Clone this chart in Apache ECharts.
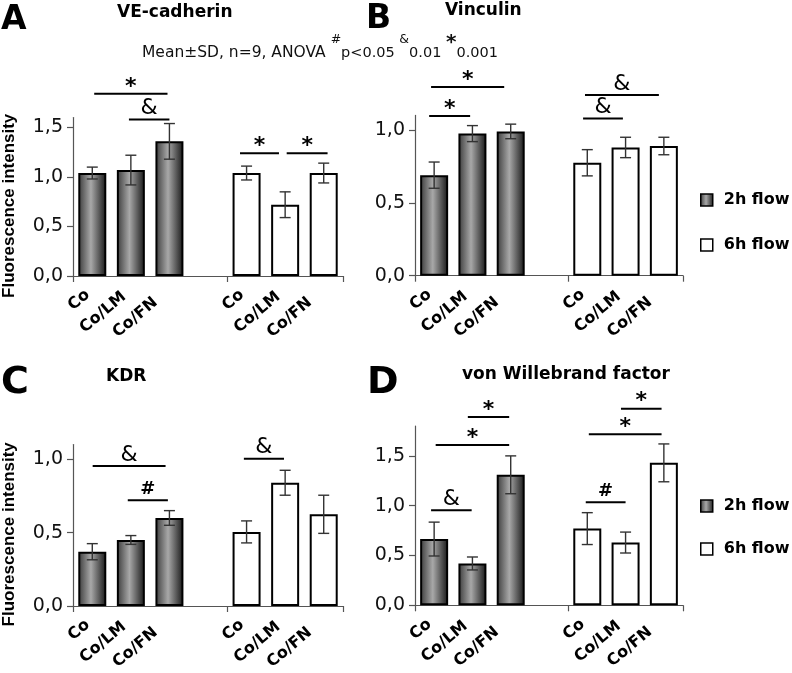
<!DOCTYPE html>
<html><head><meta charset="utf-8">
<script src="https://cdn.jsdelivr.net/npm/echarts@6/dist/echarts.min.js"></script>
<style>html,body{margin:0;padding:0;background:#fff}#c{width:792px;height:673px}</style>
</head><body><div id="c"></div>
<script>
// ---------- data ----------
const categories = ['Co', 'Co/LM', 'Co/FN', '', 'Co', 'Co/LM', 'Co/FN'];
const seriesNames = ['2h flow', '6h flow'];
const panelTitles = ['VE-cadherin', 'Vinculin', 'KDR', 'von Willebrand factor'];
const panelLetters = ['A', 'B', 'C', 'D'];
const yAxisName = 'Fluorescence intensity';
const yTickValues = [[0, 0.5, 1.0, 1.5], [0, 0.5, 1.0], [0, 0.5, 1.0], [0, 0.5, 1.0, 1.5]];
const yMaxValues = [1.6, 1.1, 1.1, 1.8];

const veMean2h = [1.04, 1.07, 1.36];
const veSd2h = [0.06, 0.15, 0.18];
const veMean6h = [1.04, 0.72, 1.04];
const veSd6h = [0.07, 0.13, 0.10];

const vinMean2h = [0.69, 0.975, 0.99];
const vinSd2h = [0.09, 0.055, 0.05];
const vinMean6h = [0.775, 0.88, 0.89];
const vinSd6h = [0.09, 0.07, 0.06];

const kdrMean2h = [0.37, 0.45, 0.60];
const kdrSd2h = [0.055, 0.03, 0.05];
const kdrMean6h = [0.505, 0.84, 0.625];
const kdrSd6h = [0.075, 0.085, 0.13];

const vwfMean2h = [0.665, 0.42, 1.31];
const vwfSd2h = [0.17, 0.065, 0.19];
const vwfMean6h = [0.77, 0.63, 1.43];
const vwfSd6h = [0.16, 0.105, 0.19];

// significance brackets: [from (category units), to, level (value), symbol]
const veSig = [[0.05, 1.95, 1.84, '*'], [0.95, 2.0, 1.58, '&'], [3.83, 4.84, 1.24, '*'], [5.04, 6.1, 1.24, '*']];
const vinSig = [[-0.08, 1.83, 1.295, '*'], [-0.13, 0.94, 1.096, '*'], [3.94, 5.87, 1.24, '&'], [3.89, 4.93, 1.078, '&']];
const kdrSig = [[0.01, 1.9, 0.954, '&'], [0.92, 1.96, 0.72, '#'], [3.93, 4.97, 1.004, '&']];
const vwfSig = [[-0.08, 0.98, 0.954, '&'], [0.04, 1.96, 1.61, '*'], [0.88, 1.96, 1.89, '*'], [3.96, 5.0, 1.034, '#'], [4.04, 5.94, 1.717, '*'], [4.88, 5.94, 1.974, '*']];

const noteMain = 'Mean±SD, n=9, ANOVA ';
const noteParts = [['#', 'p<0.05 '], ['&', '0.01 '], ['*', '0.001']];

// ---------- layout / style ----------
const panels = [
  { m2: veMean2h, s2: veSd2h, m6: veMean6h, s6: veSd6h, sig: veSig },
  { m2: vinMean2h, s2: vinSd2h, m6: vinMean6h, s6: vinSd6h, sig: vinSig },
  { m2: kdrMean2h, s2: kdrSd2h, m6: kdrMean6h, s6: kdrSd6h, sig: kdrSig },
  { m2: vwfMean2h, s2: vwfSd2h, m6: vwfMean6h, s6: vwfSd6h, sig: vwfSig }
];
const gridBoxes = [
  { left: 73, top: 117.6, width: 270, height: 158.4 },
  { left: 415, top: 115.4, width: 268, height: 160.3 },
  { left: 73, top: 444.6, width: 270, height: 161.4 },
  { left: 415, top: 426, width: 268, height: 179.3 }
];
// horizontal shift (px, leftwards) for each rotated category label
const labelShift = [8, 12, 24, 0, 8, 12, 24];
const FONT = 'DejaVu Sans';
const darkGrad = {
  type: 'linear', x: 0, y: 0, x2: 1, y2: 0,
  colorStops: [
    { offset: 0, color: '#3a3a3a' }, { offset: 0.45, color: '#a8a8a8' }, { offset: 1, color: '#161616' }
  ]
};
const axisColor = '#555';
const ROT = 40, RAD = ROT * Math.PI / 180;

function errRender(params, api) {
  const x = api.value(0), m = api.value(1), s = api.value(2);
  const hi = api.coord([x, m + s]), lo = api.coord([x, m - s]);
  const w = 5.5;
  const st = { stroke: '#333', lineWidth: 1.4 };
  return {
    type: 'group', children: [
      { type: 'line', shape: { x1: hi[0], y1: hi[1], x2: lo[0], y2: lo[1] }, style: st },
      { type: 'line', shape: { x1: hi[0] - w, y1: hi[1], x2: hi[0] + w, y2: hi[1] }, style: st },
      { type: 'line', shape: { x1: lo[0] - w, y1: lo[1], x2: lo[0] + w, y2: lo[1] }, style: st }
    ]
  };
}

function makeSigRender(sigArr) {
  return function (params, api) {
    const level = api.value(1), from = api.value(2), to = api.value(3);
    const p = api.coord([0, level]);
    const bw = api.size([1, 0])[0];
    const x1 = p[0] + from * bw, x2 = p[0] + to * bw;
    const sym = sigArr[params.dataIndex][3];
    let font, dy;
    if (sym === '*') { font = 'bold 22px "DejaVu Sans"'; dy = -7; }
    else if (sym === '#') { font = 'bold 18px "DejaVu Sans"'; dy = -11; }
    else { font = '22px "DejaVu Sans"'; dy = -11; }
    return {
      type: 'group', children: [
        { type: 'line', shape: { x1: x1, y1: p[1], x2: x2, y2: p[1] }, style: { stroke: '#000', lineWidth: 2 } },
        { type: 'text', style: { x: (x1 + x2) / 2, y: p[1] + dy, text: sym, font: font, fill: '#000', align: 'center', verticalAlign: 'middle' } }
      ]
    };
  };
}

const catData = categories.map((c, k) => ({
  value: c,
  textStyle: { padding: [0, Math.round(labelShift[k] * Math.cos(RAD)), Math.round(2 * labelShift[k] * Math.sin(RAD)), 0] }
}));

const grid = [], xAxis = [], yAxis = [], series = [];
panels.forEach((pn, i) => {
  grid.push(gridBoxes[i]);
  xAxis.push({
    type: 'category', gridIndex: i, data: catData, boundaryGap: true,
    axisLine: { show: true, lineStyle: { color: axisColor, width: 1.2 } },
    axisTick: { show: true, interval: (idx) => idx === 0 || idx === 4, length: 6, lineStyle: { color: axisColor, width: 1.2 } },
    axisLabel: { interval: 0, rotate: ROT, margin: 13, fontFamily: FONT, fontWeight: 'bold', fontSize: 16, color: '#000' }
  });
  yAxis.push({
    type: 'value', gridIndex: i, min: 0, max: yMaxValues[i], interval: 0.5,
    name: (i % 2 === 0) ? yAxisName : '', nameLocation: 'middle', nameRotate: 90, nameGap: 55,
    nameTextStyle: { fontFamily: 'Liberation Sans', fontWeight: 'bold', fontSize: 17, color: '#000', padding: [0, 18, 0, 0] },
    splitLine: { show: false },
    axisLine: { show: true, lineStyle: { color: axisColor, width: 1.2 } },
    axisTick: { show: true, length: 6, customValues: yTickValues[i], lineStyle: { color: axisColor, width: 1.2 } },
    axisLabel: { customValues: yTickValues[i], margin: 10, fontFamily: FONT, fontSize: 19, color: '#111',
      formatter: (v) => v.toFixed(1).replace('.', ',') }
  });
  series.push({
    name: seriesNames[0], type: 'bar', xAxisIndex: i, yAxisIndex: i, barWidth: 28, barGap: '-100%',
    data: pn.m2.concat([null, null, null, null]),
    itemStyle: { color: darkGrad, borderColor: '#000', borderWidth: 2 }, z: 2
  });
  series.push({
    name: seriesNames[1], type: 'bar', xAxisIndex: i, yAxisIndex: i, barWidth: 28, barGap: '-100%',
    data: [null, null, null, null].concat(pn.m6),
    itemStyle: { color: '#fff', borderColor: '#000', borderWidth: 2 }, z: 2
  });
  series.push({
    type: 'custom', xAxisIndex: i, yAxisIndex: i, renderItem: errRender, z: 3, silent: true,
    data: pn.m2.map((v, k) => [k, v, pn.s2[k]]).concat(pn.m6.map((v, k) => [k + 4, v, pn.s6[k]]))
  });
  series.push({
    type: 'custom', xAxisIndex: i, yAxisIndex: i, renderItem: makeSigRender(pn.sig), z: 4, silent: true, clip: false,
    encode: { x: 0, y: 1 },
    data: pn.sig.map(s => [0, s[2], s[0], s[1]])
  });
});

const titleStyle = { fontFamily: FONT, fontWeight: 'bold', fontSize: 17, color: '#000' };
const titlePos = [[117, 4], [445, 2], [106, 368], [462, 366]];
const letterPos = [[1, 4], [366, 3], [1, 364], [367, 364]];
const letterSize = [33, 33, 38, 38];
const title = [];
panelTitles.forEach((t, i) => title.push({ text: t, left: titlePos[i][0], top: titlePos[i][1], padding: 0, textStyle: titleStyle }));
panelLetters.forEach((t, i) => title.push({ text: t, left: letterPos[i][0], top: letterPos[i][1], padding: 0,
  textStyle: { fontFamily: FONT, fontWeight: 'bold', fontSize: letterSize[i], color: '#000' } }));

let noteText = '{n|' + noteMain + '}';
noteParts.forEach(p => { noteText += (p[0] === '*' ? '{b|' : '{s|') + p[0] + '}{l|' + p[1] + '}'; });

const legendCommon = {
  orient: 'vertical', left: 700, padding: 0, icon: 'rect', itemWidth: 12, itemHeight: 12,
  data: seriesNames,
  itemStyle: { borderColor: '#000', borderWidth: 1.5 },
  textStyle: { fontFamily: FONT, fontWeight: 'bold', fontSize: 16, color: '#000', lineHeight: 20, padding: [0, 0, 0, 6] }
};

const option = {
  backgroundColor: '#fff',
  animation: false,
  title: title,
  legend: [
    Object.assign({}, legendCommon, { top: 190, itemGap: 25 }),
    Object.assign({}, legendCommon, { top: 496, itemGap: 23 })
  ],
  grid: grid, xAxis: xAxis, yAxis: yAxis, series: series,
  graphic: [{
    type: 'text', left: 142, top: 33,
    style: {
      text: noteText, fill: '#111',
      rich: {
        n: { fontFamily: FONT, fontSize: 15.5, lineHeight: 28, verticalAlign: 'bottom' },
        l: { fontFamily: FONT, fontSize: 14.5, lineHeight: 28, verticalAlign: 'bottom' },
        s: { fontFamily: FONT, fontSize: 12.5, lineHeight: 28, verticalAlign: 'top' },
        b: { fontFamily: FONT, fontSize: 20, fontWeight: 'bold', lineHeight: 28, verticalAlign: 'top' }
      }
    }
  }]
};
const chart = echarts.init(document.getElementById('c'), null, { renderer: 'canvas' });
chart.setOption(option);
</script></body></html>
